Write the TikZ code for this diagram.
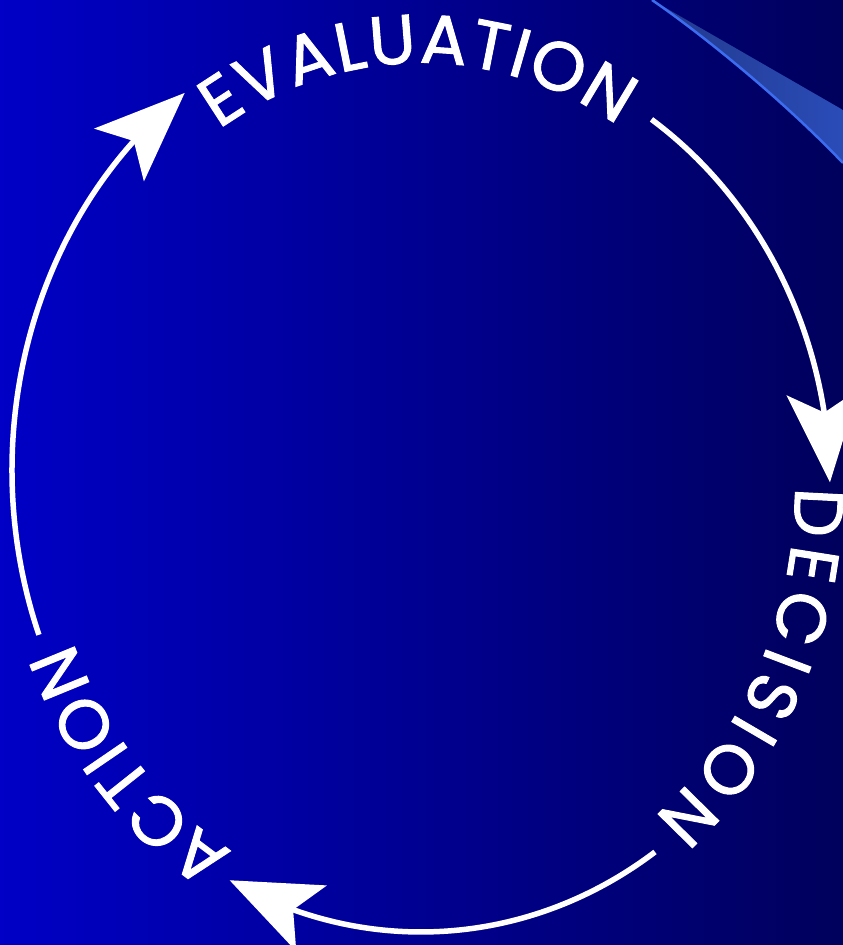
\documentclass[tikz,border=0pt]{standalone}
\usepackage{fontspec}
\newfontfamily\popfont[FakeBold=1.4]{Poppins}
\usetikzlibrary{arrows.meta,bending,decorations.text,calc}
\definecolor{bgleft}{HTML}{0000C6}
\definecolor{bgmid}{HTML}{000096}
\definecolor{bgright}{HTML}{00005C}
\definecolor{bandA}{HTML}{22398C}
\definecolor{bandB}{HTML}{2A4CB8}
\definecolor{bandedge}{HTML}{3C6CF0}
\begin{document}
\begin{tikzpicture}[x=1pt,y=1pt,
  cycarrow/.style={draw=white, line width=5.5pt,
    -{Stealth[length=90pt,width=72pt,inset=20pt,flex]}},
  ringtext/.style={decorate, decoration={text along path,
    text align={fit to path},
    text={|\popfont\fontsize{69}{69}\selectfont\color{white}|#1}}}
]
\useasboundingbox (0,0) rectangle (843,945);
% background
\shade[left color=bgleft, middle color=bgmid, right color=bgright]
  (0,0) rectangle (843,945);
% decorative swoosh
\shade[left color=bandA, right color=bandB]
  (652,945) -- (843,835) -- (843,782)
  .. controls (780,848) and (700,912) .. (652,945) -- cycle;
\draw[bandedge, line width=2.5pt]
  (843,782) .. controls (780,848) and (700,912) .. (652,945);

% centres of the ring
\coordinate (C) at (421,458);
\coordinate (Cl) at (421,475);

% texts on the ring
\path[ringtext=EVALUATION]
  ($(C)+(122.5:376 and 424)$) arc[start angle=122.5, end angle=58.5, x radius=376, y radius=424];
\path[ringtext=DECISION]
  ($(C)+(0:374 and 422)$) arc[start angle=0, end angle=-51.5, x radius=374, y radius=422];
\path[ringtext=ACTION]
  ($(C)+(-120.2:374 and 422)$) arc[start angle=-120.2, end angle=-158.5, x radius=374, y radius=422];

% arrow ends
\coordinate (actEnd) at ($(Cl)+(200.9:409 and 462)$);
\coordinate (evaEnd) at ($(C)+(55.7:409 and 445)$);
\coordinate (decEnd) at ($(C)+(-55.1:409 and 445)$);

% arrows
\draw[cycarrow] (actEnd) arc[start angle=200.9, end angle=125.3, x radius=409, y radius=462];
\draw[cycarrow] (evaEnd) arc[start angle=55.7, end angle=0.6, x radius=409, y radius=445];
\draw[cycarrow] (decEnd) arc[start angle=-55.1, end angle=-117.9, x radius=409, y radius=445];
\end{tikzpicture}
\end{document}
